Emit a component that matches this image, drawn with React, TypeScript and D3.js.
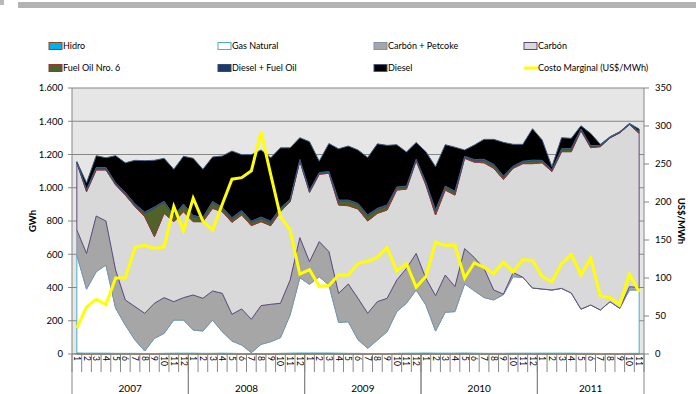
import React from 'react';
import * as d3 from 'd3';

const years = ['2007', '2008', '2009', '2010', '2011'];
const monthsPerYear = [12, 12, 12, 12, 11];

const hidro = [6,5,5,5,4,4,4,3,3,4,5,5,5,4,4,5,4,3,3,3,3,4,5,6,6,6,6,5,4,4,3,3,3,4,5,5,6,5,5,5,6,5,4,4,4,5,5,5,5,5,5,5,4,4,3,3,3,4,4];
const gasNatural = [589,385,490,530,271,170,80,15,91,120,199,199,139,134,200,129,74,51,5,55,71,94,230,453,413,459,409,185,190,82,31,81,131,251,300,380,289,133,246,250,416,375,336,321,353,460,455,392,386,380,390,362,266,291,262,312,272,381,381];
const carbonPetcoke = [151,215,335,265,230,151,201,227,211,215,111,135,211,197,175,231,161,217,201,233,225,207,210,241,136,211,201,175,227,249,211,231,201,190,210,220,160,213,224,150,212,200,175,60,3,25,2,0,0,0,0,0,0,0,0,0,0,20,15];
const carbon = [404,371,277,307,512,631,601,581,401,507,481,517,441,461,497,491,553,565,563,505,473,551,471,461,417,405,471,531,471,537,555,531,531,541,477,556,562,485,511,551,543,574,635,732,690,627,683,748,759,712,822,850,1073,946,982,985,1055,975,927];
const fuelOil6 = [3,10,10,10,6,10,10,20,170,66,30,40,30,20,36,20,20,20,20,20,20,16,10,5,8,6,6,24,28,28,30,24,24,14,13,7,13,24,19,19,8,11,15,18,15,8,10,15,10,8,13,15,7,9,5,3,3,3,8];
const dieselFuelOil = [2,4,5,5,6,6,7,8,8,7,6,6,7,6,6,7,8,7,7,8,7,6,5,4,5,4,5,6,6,6,7,6,6,5,5,4,5,6,5,5,4,5,6,6,6,5,5,6,5,4,5,5,4,4,3,2,2,2,4];
const diesel = [2,40,71,58,164,178,262,309,281,258,279,287,344,289,267,308,401,336,400,403,381,362,309,131,292,69,168,308,325,321,345,388,359,254,205,100,182,261,249,264,38,87,120,150,202,131,101,189,122,18,66,60,19,73,6,2,2,2,14];
const costoMarginal = [34,62,72,65,100,100,140,143,139,141,194,162,205,175,163,197,230,232,241,292,236,181,163,105,111,89,90,104,104,119,122,127,140,109,119,88,102,147,143,143,100,120,114,106,121,108,124,123,102,95,119,131,104,126,76,74,65,105,82];

const seriesNames = ['Hidro', 'Gas Natural', 'Carbón + Petcoke', 'Carbón', 'Fuel Oil Nro. 6', 'Diesel + Fuel Oil', 'Diesel'];
const seriesValues = [hidro, gasNatural, carbonPetcoke, carbon, fuelOil6, dieselFuelOil, diesel];
const lineName = 'Costo Marginal (US$/MWh)';

const gwhTicks = [0, 200, 400, 600, 800, 1000, 1200, 1400, 1600];
const usdTicks = [0, 50, 100, 150, 200, 250, 300, 350];

const fills = ['#00b0f0', '#ffffff', '#a6a6a6', '#d9d9d9', '#4f6228', '#1f3864', '#000000'];
const strokes = ['#984807', '#4bacc6', '#7f93ad', '#604a7b', '#953735', '#2c4d75', '#3f5f82'];

const FONT = "Lato, 'Liberation Sans', sans-serif";

export default function App() {
  const W = 696, H = 394;
  const left = 72, right = 644, top = 88, bottom = 354;

  const categories = years.flatMap((y, yi) =>
    d3.range(1, monthsPerYear[yi] + 1).map((m) => ({ year: y, month: m, yi }))
  );
  const n = categories.length;
  const x = d3.scaleBand<number>().domain(d3.range(n)).range([left, right]).padding(0);
  const bw = x.bandwidth();
  const cx = (i: number) => (x(i) as number) + bw / 2;
  const yL = d3.scaleLinear().domain([0, 1600]).range([bottom, top]);
  const yR = d3.scaleLinear().domain([0, 350]).range([bottom, top]);

  const rows = categories.map((_, i) => {
    const r: any = {};
    seriesNames.forEach((k, s) => (r[k] = seriesValues[s][i]));
    return r;
  });
  const stacked = d3.stack<any>().keys(seriesNames)(rows);
  const area = d3
    .area<any>()
    .x((_d, i) => cx(i))
    .y0((d) => yL(d[0]))
    .y1((d) => yL(d[1]));
  const line = d3
    .line<number>()
    .x((_d, i) => cx(i))
    .y((d) => yR(d));

  // year boundaries
  let acc = 0;
  const yearSpans = years.map((y, yi) => {
    const start = acc;
    acc += monthsPerYear[yi];
    return { y, x0: x(start) as number, x1: (x(acc - 1) as number) + bw };
  });

  const legendCols = [49, 218, 374, 524];
  const legendRows = [46, 68];
  const legendItems = [...seriesNames.map((s, i) => ({ name: s, i })), { name: lineName, i: -1 }];

  return (
    <svg width={W} height={H} style={{ position: 'absolute', left: 0, top: 0, background: '#fff' }} fontFamily={FONT}>
      {/* header bar */}
      <rect x={0} y={0} width={4} height={5} fill="#b8b8b8" />
      <rect x={18} y={2} width={678} height={6} fill="#b3b3b3" />

      {/* legend */}
      {legendItems.map((it, k) => {
        const col = k % 4;
        const row = Math.floor(k / 4);
        const lx = legendCols[col];
        const ly = legendRows[row];
        return (
          <g key={it.name}>
            {it.i >= 0 ? (
              <rect x={lx} y={ly - 3.5} width={13} height={7} fill={fills[it.i]} stroke={strokes[it.i]} strokeWidth={1} />
            ) : (
              <line x1={lx} x2={lx + 14} y1={ly} y2={ly} stroke="#ffff00" strokeWidth={3} />
            )}
            <text x={lx + 14} y={ly} dy="0.35em" fontSize={9} fill="#000">
              {it.name}
            </text>
          </g>
        );
      })}

      {/* plot background */}
      <rect x={left} y={top} width={right - left} height={bottom - top} fill="#e6e6e6" />
      {gwhTicks.map((t) => (
        <line key={'g' + t} x1={left} x2={right} y1={yL(t)} y2={yL(t)} stroke="#868686" strokeWidth={1} />
      ))}

      {/* stacked areas */}
      {stacked.map((s, si) => (
        <path key={s.key} d={area(s as any) || ''} fill={fills[si]} stroke={strokes[si]} strokeWidth={1} strokeLinejoin="round" />
      ))}

      {/* marginal cost line */}
      <path d={line(costoMarginal) || ''} fill="none" stroke="#ffff00" strokeWidth={3} strokeLinejoin="miter" />

      {/* left axis */}
      <line x1={left} x2={left} y1={top} y2={bottom} stroke="#868686" />
      {gwhTicks.map((t) => (
        <g key={'lt' + t}>
          <line x1={left - 4} x2={left} y1={yL(t)} y2={yL(t)} stroke="#868686" />
          <text x={left - 9} y={yL(t)} dy="0.35em" textAnchor="end" fontSize={9.5} fill="#000">
            {d3.format(',')(t).replace(/,/g, '.')}
          </text>
        </g>
      ))}
      <text transform={`translate(33,${(top + bottom) / 2}) rotate(-90)`} textAnchor="middle" dy="0.35em" fontSize={9.5} fontWeight="bold">
        GWh
      </text>

      {/* right axis */}
      <line x1={right} x2={right} y1={top} y2={bottom} stroke="#868686" />
      {usdTicks.map((t) => (
        <g key={'rt' + t}>
          <line x1={right} x2={right + 5} y1={yR(t)} y2={yR(t)} stroke="#868686" />
          <text x={right + 11} y={yR(t)} dy="0.35em" textAnchor="start" fontSize={9.5} fill="#000">
            {t}
          </text>
        </g>
      ))}
      <text transform={`translate(681,${(top + bottom) / 2}) rotate(90)`} textAnchor="middle" dy="0.35em" fontSize={9.5} fontWeight="bold">
        US$/MWh
      </text>

      {/* x axis */}
      <line x1={left} x2={right} y1={bottom} y2={bottom} stroke="#868686" />
      {d3.range(n + 1).map((i) => {
        const bx = i < n ? (x(i) as number) : right;
        return <line key={'xt' + i} x1={bx} x2={bx} y1={bottom} y2={bottom + 18} stroke="#868686" />;
      })}
      {categories.map((c, i) => (
        <text key={'m' + i} transform={`translate(${cx(i)},${bottom + 2}) rotate(90)`} dy="0.35em" fontSize={8.5} fill="#000">
          {c.month}
        </text>
      ))}
      {yearSpans.map((s) => (
        <g key={'y' + s.y}>
          <line x1={s.x0} x2={s.x0} y1={bottom} y2={H} stroke="#868686" />
          <line x1={s.x1} x2={s.x1} y1={bottom} y2={H} stroke="#868686" />
          <text x={(s.x0 + s.x1) / 2} y={388} dy="0.35em" textAnchor="middle" fontSize={10} fill="#000">
            {s.y}
          </text>
        </g>
      ))}
    </svg>
  );
}
